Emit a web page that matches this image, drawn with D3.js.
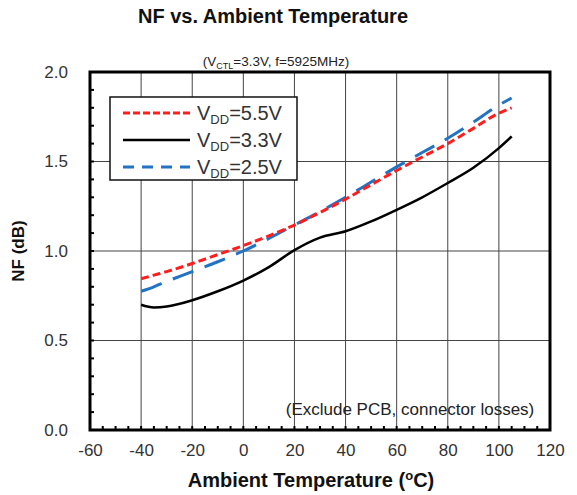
<!DOCTYPE html>
<html>
<head>
<meta charset="utf-8">
<script src="https://cdn.jsdelivr.net/npm/d3@7"></script>
<style>
  html, body { margin: 0; padding: 0; background: #fff; }
  svg { display: block; font-family: "Liberation Sans", Arial, sans-serif; }
</style>
</head>
<body>
<svg id="chart" width="577" height="495"></svg>
<script>
// Temperature points (°C) and noise figure (dB) for each supply voltage
const temps = [-40, -35, -30, -20, -10, 0, 10, 20, 30, 40, 50, 60, 70, 80, 90, 100, 105];
const nf55 = [0.845, 0.865, 0.885, 0.93, 0.98, 1.03, 1.085, 1.145, 1.215, 1.29, 1.37, 1.45, 1.525, 1.60, 1.685, 1.77, 1.80];
const nf33 = [0.70, 0.685, 0.69, 0.725, 0.775, 0.835, 0.91, 1.005, 1.075, 1.11, 1.165, 1.23, 1.30, 1.38, 1.465, 1.575, 1.64];
const nf25 = [0.775, 0.80, 0.83, 0.885, 0.94, 1.0, 1.07, 1.145, 1.22, 1.30, 1.385, 1.47, 1.55, 1.63, 1.72, 1.815, 1.855];

const xTicks = [-60, -40, -20, 0, 20, 40, 60, 80, 100, 120];
const yTicks = [0.0, 0.5, 1.0, 1.5, 2.0];
const legendLabels = ["5.5V", "3.3V", "2.5V"];

const series = [
  { label: legendLabels[0], values: nf55, color: "#ff1e1e", width: 3, dash: "8,4", legendDash: "7,3" },
  { label: legendLabels[1], values: nf33, color: "#000000", width: 2.5, dash: null, legendDash: null },
  { label: legendLabels[2], values: nf25, color: "#2273c3", width: 3, dash: "22,12", legendDash: "11,8" }
];

const svg = d3.select("#chart");
const plot = { left: 90, right: 550, top: 72, bottom: 430 };

const x = d3.scaleLinear().domain([-60, 120]).range([plot.left, plot.right]);
const y = d3.scaleLinear().domain([0, 2]).range([plot.bottom, plot.top]);

// Title and subtitle
svg.append("text")
  .attr("x", 273).attr("y", 23)
  .attr("text-anchor", "middle")
  .attr("font-size", 20).attr("font-weight", "bold").attr("fill", "#111")
  .text("NF vs. Ambient Temperature");

const sub = svg.append("text")
  .attr("x", 276).attr("y", 66)
  .attr("text-anchor", "middle")
  .attr("font-size", 13.5).attr("fill", "#222");
sub.append("tspan").text("(V");
sub.append("tspan").attr("font-size", 9).attr("dy", 3).text("CTL");
sub.append("tspan").attr("dy", -3).text("=3.3V, f=5925MHz)");

// Grid lines
const grid = svg.append("g").attr("stroke", "#444").attr("stroke-width", 1);
grid.selectAll("line.v")
  .data(xTicks.filter(t => t > -60 && t < 120))
  .join("line")
  .attr("x1", d => x(d)).attr("x2", d => x(d))
  .attr("y1", plot.top).attr("y2", plot.bottom);
grid.selectAll("line.h")
  .data(yTicks.filter(t => t > 0 && t < 2))
  .join("line")
  .attr("x1", plot.left).attr("x2", plot.right)
  .attr("y1", d => y(d)).attr("y2", d => y(d));

// Minor tick marks pointing into the plot
const xMinor = d3.range(-55, 120, 5);
const yMinor = d3.range(1, 20).map(i => i / 10);
const minor = svg.append("g").attr("stroke", "#000").attr("stroke-width", 2);
minor.selectAll("line.xm").data(xMinor).join("line")
  .attr("x1", d => x(d)).attr("x2", d => x(d))
  .attr("y1", plot.bottom).attr("y2", plot.bottom - 4);
minor.selectAll("line.ym").data(yMinor).join("line")
  .attr("x1", plot.left).attr("x2", plot.left + 4)
  .attr("y1", d => y(d)).attr("y2", d => y(d));

// Axes labels (plain hyphen for negative values)
const xAxis = d3.axisBottom(x).tickValues(xTicks).tickSize(0).tickPadding(14).tickFormat(d => String(d));
const gx = svg.append("g").attr("transform", `translate(0,${plot.bottom})`).call(xAxis);
gx.select(".domain").remove();
gx.selectAll("text").attr("font-size", 17).attr("fill", "#333").attr("font-family", "Liberation Sans, Arial, sans-serif");

const yAxis = d3.axisLeft(y).tickValues(yTicks).tickSize(0).tickPadding(22).tickFormat(d => d.toFixed(1));
const gy = svg.append("g").attr("transform", `translate(${plot.left},0)`).call(yAxis);
gy.select(".domain").remove();
gy.selectAll("text").attr("font-size", 17).attr("fill", "#333").attr("font-family", "Liberation Sans, Arial, sans-serif");

// Axis titles
const xt = svg.append("text")
  .attr("x", 311).attr("y", 487)
  .attr("text-anchor", "middle")
  .attr("font-size", 20).attr("font-weight", "bold").attr("fill", "#111");
xt.append("tspan").text("Ambient Temperature (");
xt.append("tspan").attr("font-size", 13).attr("dy", -7).text("o");
xt.append("tspan").attr("dy", 7).text("C)");

svg.append("text")
  .attr("transform", `translate(24,${(plot.top + plot.bottom) / 2}) rotate(-90)`)
  .attr("text-anchor", "middle")
  .attr("font-size", 17).attr("font-weight", "bold").attr("fill", "#111")
  .text("NF (dB)");

// Note text
svg.append("text")
  .attr("x", 410).attr("y", 415)
  .attr("text-anchor", "middle")
  .attr("font-size", 17).attr("fill", "#222")
  .text("(Exclude PCB, connector losses)");

// Data lines
const line = d3.line().curve(d3.curveMonotoneX)
  .x((d, i) => x(temps[i]))
  .y(d => y(d));

svg.append("g").selectAll("path")
  .data([series[1], series[2], series[0]])
  .join("path")
  .attr("fill", "none")
  .attr("stroke", d => d.color)
  .attr("stroke-width", d => d.width)
  .attr("stroke-dasharray", d => d.dash)
  .attr("d", d => line(d.values));

// Legend
const lg = svg.append("g");
lg.append("rect")
  .attr("x", 110).attr("y", 97).attr("width", 187).attr("height", 83)
  .attr("fill", "#fff").attr("stroke", "#111").attr("stroke-width", 1.5);
const rows = lg.selectAll("g.row").data(series).join("g")
  .attr("transform", (d, i) => `translate(0,${113 + i * 27})`);
rows.append("line")
  .attr("x1", 123).attr("x2", 190).attr("y1", 0).attr("y2", 0)
  .attr("stroke", d => d.color)
  .attr("stroke-width", d => d.width)
  .attr("stroke-dasharray", d => d.legendDash);
const lt = rows.append("text")
  .attr("x", 197).attr("y", 7)
  .attr("font-size", 20).attr("fill", "#333");
lt.append("tspan").text("V");
lt.append("tspan").attr("font-size", 13).attr("dy", 4).text("DD");
lt.append("tspan").attr("dy", -4).text(d => "=" + d.label);

// Plot frame
svg.append("rect")
  .attr("x", plot.left).attr("y", plot.top)
  .attr("width", plot.right - plot.left).attr("height", plot.bottom - plot.top)
  .attr("fill", "none").attr("stroke", "#000").attr("stroke-width", 3);
</script>
</body>
</html>
